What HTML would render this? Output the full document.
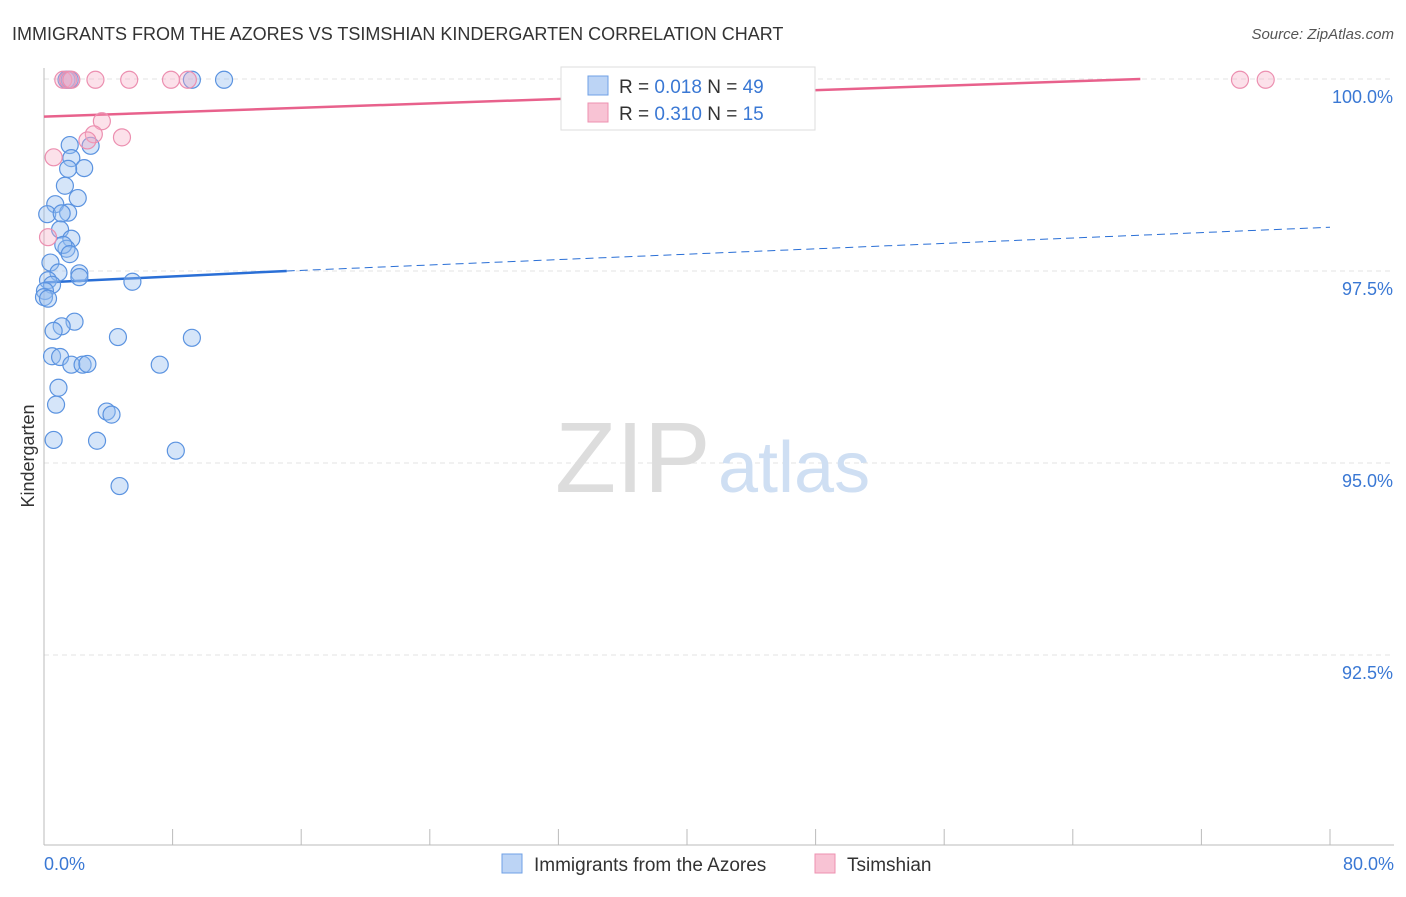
<!DOCTYPE html>
<html><head><meta charset="utf-8"><style>
body{margin:0;background:#fff;font-family:"Liberation Sans",sans-serif;}
svg text{font-family:"Liberation Sans",sans-serif;}
</style></head><body>
<svg width="1406" height="892">
<text x="12" y="40" font-size="18" fill="#333">IMMIGRANTS FROM THE AZORES VS TSIMSHIAN KINDERGARTEN CORRELATION CHART</text>
<text x="1394" y="39" font-size="15" fill="#555" font-style="italic" text-anchor="end">Source: ZipAtlas.com</text>
<g id="grid"></g>
<text x="555" y="492" font-size="100" fill="#ddd" font-family="Liberation Serif">ZIP</text>
<text x="718" y="492" font-size="72" fill="#cfdff3">atlas</text>
<line x1="44" y1="68" x2="44" y2="845" stroke="#bbb"/>
<line x1="44" y1="845" x2="1394" y2="845" stroke="#bbb"/>
<g id="ticks"></g>
<text x="44" y="870" font-size="18" fill="#3a78d4">0.0%</text>
<text x="1394" y="870" font-size="18" fill="#3a78d4" text-anchor="end">80.0%</text>
<text x="34" y="456" font-size="18" fill="#333" transform="rotate(-90 34 456)" text-anchor="middle">Kindergarten</text>
<g id="lines"></g>
<g id="pts"></g>
<g>
<rect x="561" y="67" width="254" height="63" fill="#fff" stroke="#ddd"/>
<rect x="588" y="76" width="20" height="19" fill="#bcd4f5" stroke="#6fa0e6"/>
<rect x="588" y="103" width="20" height="19" fill="#f8c3d4" stroke="#ee92b0"/>
<text x="619" y="93" font-size="19" fill="#333">R = <tspan fill="#3a78d4">0.018</tspan>   N = <tspan fill="#3a78d4">49</tspan></text>
<text x="619" y="120" font-size="19" fill="#333">R = <tspan fill="#3a78d4">0.310</tspan>   N = <tspan fill="#3a78d4"> 15</tspan></text>
</g>
<g>
<rect x="502" y="854" width="20" height="19" fill="#bcd4f5" stroke="#6fa0e6"/>
<text x="534" y="871" font-size="19" fill="#333">Immigrants from the Azores</text>
<rect x="815" y="854" width="20" height="19" fill="#f8c3d4" stroke="#ee92b0"/>
<text x="847" y="871" font-size="19" fill="#333">Tsimshian</text>
</g>
</svg>
<script>
const yTicks=[100,97.5,95,92.5];
const xTicks=[0,8,16,24,32,40,48,56,64,72,80];
const blueX=[1.4,1.6,9.2,11.2,1.6,2.9,1.7,2.5,1.5,1.3,2.1,0.7,0.2,1.5,1.1,1.0,1.7,1.4,1.2,1.6,0.4,0.9,2.2,2.2,0.25,0.5,0.06,0.0,5.5,1.9,1.1,0.6,4.6,9.2,0.5,1.0,1.7,2.4,2.7,7.2,0.9,0.75,3.9,4.2,0.6,3.3,8.2,4.7,0.25];
const blueY=[99.99,99.99,99.99,99.99,99.14,99.13,98.97,98.84,98.83,98.61,98.45,98.37,98.24,98.26,98.25,98.04,97.92,97.79,97.84,97.72,97.61,97.48,97.47,97.42,97.38,97.32,97.24,97.16,97.36,96.84,96.78,96.72,96.64,96.63,96.39,96.38,96.28,96.28,96.29,96.28,95.98,95.76,95.67,95.63,95.3,95.29,95.16,94.7,97.14];
const pinkX=[1.2,1.5,1.7,3.2,5.3,7.9,8.95,74.4,76.0,3.6,3.1,2.7,4.85,0.6,0.25];
const pinkY=[99.99,99.99,99.99,99.99,99.99,99.99,99.99,99.99,99.99,99.45,99.28,99.2,99.24,98.98,97.94];
const blueTrend=[[0,97.35],[15.1,97.5],[80,98.07]];
const pinkTrend=[[0,99.51],[68.2,100.0]];
const NS='http://www.w3.org/2000/svg';
const sx=v=>44+v*16.075, sy=v=>79+(100-v)*76.8;
function mk(t,a,p){const e=document.createElementNS(NS,t);for(const k in a)e.setAttribute(k,a[k]);p.appendChild(e);return e;}
const grid=document.getElementById('grid');
yTicks.forEach(v=>{
 const l=mk('line',{x1:44,x2:1394,y1:sy(v),y2:sy(v),stroke:'#e3e3e3','stroke-dasharray':'5,4'},grid);
 
 
 const t=mk('text',{x:1393,y:sy(v)+24,'font-size':18,fill:'#3a78d4','text-anchor':'end'},grid);
 t.textContent=v.toFixed(1)+'%';
 
 
});
const tk=document.getElementById('ticks');
xTicks.forEach(v=>{
 const l=mk('line',{x1:sx(v),x2:sx(v),y1:829,y2:845,stroke:'#bbb'},tk);
 
 
});
const ln=document.getElementById('lines');
const b1=mk('line',{x1:sx(blueTrend[0][0]),y1:sy(blueTrend[0][1]),x2:sx(blueTrend[1][0]),y2:sy(blueTrend[1][1]),stroke:'#2a6fd6','stroke-width':2.5},ln);


const b2=mk('line',{x1:sx(blueTrend[1][0]),y1:sy(blueTrend[1][1]),x2:sx(blueTrend[2][0]),y2:sy(blueTrend[2][1]),stroke:'#2a6fd6','stroke-width':1,'stroke-dasharray':'8,5'},ln);


const p1=mk('line',{x1:sx(pinkTrend[0][0]),y1:sy(pinkTrend[0][1]),x2:sx(pinkTrend[1][0]),y2:sy(pinkTrend[1][1]),stroke:'#e8618c','stroke-width':2.5},ln);


const pts=document.getElementById('pts');
blueX.forEach((x,i)=>{
 const c=mk('circle',{cx:sx(x),cy:sy(blueY[i]),r:8.5,fill:'rgba(150,190,240,0.4)',stroke:'#5b93e0','stroke-width':1.2},pts);
 
 
});
pinkX.forEach((x,i)=>{
 const c=mk('circle',{cx:sx(x),cy:sy(pinkY[i]),r:8.5,fill:'rgba(245,170,195,0.35)',stroke:'#ec8fb0','stroke-width':1.2},pts);
 
 
});
</script>
</body></html>
